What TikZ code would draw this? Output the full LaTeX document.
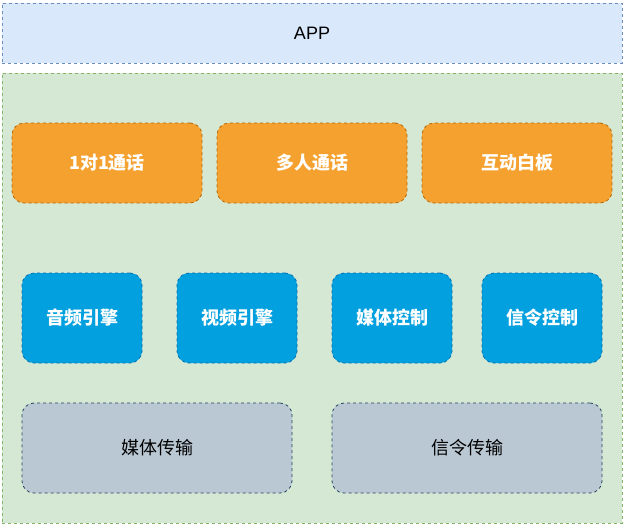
\documentclass[tikz,border=0pt]{standalone}
\usepackage{fontspec}
\setmainfont{Noto Sans CJK SC}
\newfontfamily\latinfont{Liberation Sans}
\usetikzlibrary{positioning}

\definecolor{appfill}{HTML}{DAE8FC}
\definecolor{appline}{HTML}{6C8EBF}
\definecolor{basefill}{HTML}{D5E8D4}
\definecolor{baseline}{HTML}{82B366}
\definecolor{bizfill}{HTML}{F5A12F}
\definecolor{bizline}{HTML}{B46504}
\definecolor{corefill}{HTML}{02A0DE}
\definecolor{coreline}{HTML}{006EAF}
\definecolor{netfill}{HTML}{BAC8D3}
\definecolor{netline}{HTML}{23445D}

\tikzset{
    layer/.style={draw, line width=0.8pt, dash pattern=on 3pt off 3pt},
    bizbox/.style={layer, rounded corners=12pt, fill=bizfill, draw=bizline,
        text=white, font=\fontsize{18}{21}\selectfont\bfseries,
        minimum width=190pt, minimum height=80pt},
    corebox/.style={layer, rounded corners=12pt, fill=corefill, draw=coreline,
        text=white, font=\fontsize{18}{21}\selectfont\bfseries,
        minimum width=120pt, minimum height=90pt},
    netbox/.style={layer, rounded corners=12pt, fill=netfill, draw=netline,
        text=black, font=\fontsize{18}{21}\selectfont,
        minimum width=270pt, minimum height=90pt}
}

\begin{document}
\begin{tikzpicture}[x=1pt, y=-1pt]
    \useasboundingbox (0,0) rectangle (626,528);

    \node[layer, fill=appfill, draw=appline, minimum width=620pt, minimum height=60pt,
        font=\fontsize{18}{21}\selectfont\latinfont] (app) at (312,33) {APP};
    \node[layer, fill=basefill, draw=baseline, minimum width=620pt,
        minimum height=450pt] (sdk) at (312,298) {};

    % business layer
    \foreach \x/\name/\label in {
        107/call/1对1通话,
        312/group/多人通话,
        517/board/互动白板
    }{
        \node[bizbox] (\name) at (\x,163) {\label};
    }

    % engines and control
    \foreach \x/\name/\label in {
        82/audio/音频引擎,
        237/video/视频引擎,
        392/mediactl/媒体控制,
        542/signalctl/信令控制
    }{
        \node[corebox] (\name) at (\x,318) {\label};
    }

    % transport
    \foreach \x/\name/\label in {
        157/mediatx/媒体传输,
        467/signaltx/信令传输
    }{
        \node[netbox] (\name) at (\x,448) {\label};
    }
\end{tikzpicture}
\end{document}
